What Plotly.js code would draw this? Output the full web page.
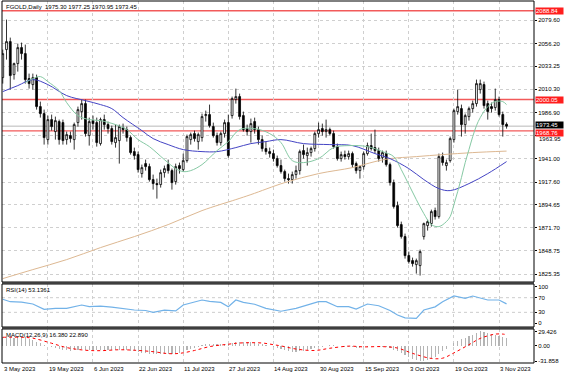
<!DOCTYPE html>
<html><head><meta charset="utf-8">
<script src="https://cdn.plot.ly/plotly-3.0.1.min.js"></script>
<style>html,body{margin:0;padding:0;background:#fff;} #chart{width:564px;height:376px;}</style>
</head><body><div id="chart"></div>
<script>
// ---- data (bar index 0 = 3 May 2023) ----
const opens = [2022,2050,2058,2025,2036,2052,2046,2021,2015,2022,
1993,1986,1960,1980,1968,1978,1977,1960,1964,1960,
1977,1988,1996,1964,1979,1977,1956,1980,1975,1971,
1957,1959,1972,1970,1962,1948,1945,1926,1936,1933,
1920,1916,1915,1927,1935,1929,1918,1934,1930,1939,
1960,1966,1958,1962,1984,1985,1973,1964,1957,1966,
1977,1984,2000,2003,1984,1971,1968,1978,1970,1960,
1951,1948,1946,1941,1934,1928,1921,1920,1925,1929,
1949,1944,1947,1951,1966,1971,1968,1970,1966,1953,
1941,1945,1943,1946,1936,1929,1933,1946,1954,1952,
1949,1942,1946,1935,1917,1894,1875,1863,1844,1839,
1835,1834,1863,1874,1876,1889,1883,1943,1934,1939,
1960,1988,1991,1975,1983,1991,1996,2010,2015,1996,
1993,1992,2000,1985,1975.30];
const highs = [2050,2080,2062,2037,2056,2057,2055,2026,2026,2025,
1998,1990,1984,1985,1983,1980,1980,1968,1968,1977,
1993,2000,2000,1982,1984,1982,1982,1985,1978,1974,
1975,1975,1976,1973,1964,1952,1948,1935,1940,1936,
1925,1921,1930,1934,1940,1931,1936,1937,1946,1965,
1967,1969,1967,1986,1989,1995,1977,1967,1968,1980,
1985,2003,2011,2006,1988,1975,1981,1982,1973,1964,
1958,1952,1950,1944,1940,1930,1926,1928,1934,1950,
1955,1952,1953,1968,1977,1976,1980,1972,1969,1956,
1948,1949,1949,1948,1938,1934,1948,1957,1966,1970,
1952,1949,1949,1937,1920,1898,1878,1866,1848,1842,
1841,1850,1877,1880,1890,1892,1946,1947,1940,1963,
1991,2010,1995,1986,1993,1999,2020,2020,2018,1999,
1997,2011,2003,1988,1977.25];
const lows = [2016,2040,2010,2020,2028,2040,2016,2011,2010,1990,
1982,1955,1955,1969,1960,1955,1955,1955,1957,1950,
1973,1980,1963,1954,1970,1953,1954,1970,1966,1955,
1952,1936,1966,1958,1945,1940,1927,1922,1929,1918,
1910,1901,1912,1922,1926,1910,1915,1926,1928,1937,
1955,1958,1950,1958,1978,1972,1962,1954,1954,1962,
1942,1981,1996,1980,1968,1964,1957,1966,1955,1948,
1945,1942,1938,1932,1926,1918,1916,1916,1921,1925,
1941,1934,1943,1948,1962,1964,1962,1964,1951,1939,
1938,1940,1940,1932,1926,1921,1930,1944,1949,1946,
1938,1937,1933,1914,1891,1872,1861,1841,1836,1833,
1826,1824,1860,1869,1873,1880,1881,1934,1929,1937,
1957,1985,1963,1966,1979,1987,1993,2006,1991,1980,
1987,1989,1983,1963,1970.95];
const closes = [2046,2058,2024,2036,2052,2046,2020,2016,2022,1993,
1986,1962,1980,1973,1979,1960,1959,1965,1961,1975,
1990,1996,1966,1978,1976,1957,1980,1975,1971,1958,
1962,1973,1970,1962,1947,1944,1930,1932,1933,1920,
1916,1915,1927,1931,1929,1917,1933,1931,1939,1963,
1965,1961,1965,1983,1985,1974,1964,1957,1966,1977,
1944,2001,2003,1983,1970,1968,1976,1970,1960,1951,
1948,1946,1941,1934,1928,1921,1920,1925,1929,1948,
1945,1947,1951,1966,1970,1968,1970,1966,1953,1941,
1945,1943,1946,1935,1929,1933,1946,1954,1951,1949,
1941,1947,1935,1917,1893,1874,1863,1844,1838,1836,
1839,1848,1876,1878,1888,1883,1943,1937,1937,1961,
1989,1993,1975,1984,1991,1996,2016,2016,1994,1988,
1991,2000,1985,1975,1973.45];

// moving averages
const fastMaIdx = [6,8,10,12,15,17,20,23,26,30,33,36,39,43,46,48,50,53,57,60,63,67,71,74,77,80,84,88,92,97,101,104,106,108,110,112,114,116,118,119,120,121,122,123,124,125,126,127,129,131,133,134];
const fastMaVal = [2017,2021,2023,2018,2009,1997,1984,1980,1979,1975,1970,1960,1953,1940,1931,1928,1929,1935,1949,1958,1970,1971,1966,1957,1939,1937,1941,1952,1954,1953,1948,1943,1930,1915,1900,1886,1875,1873,1878,1883,1895,1908,1922,1937,1950,1963,1974,1982,1993,1998,1998,1995];
const midMaIdx = [0,4,8,12,17,22,26,29,32,37,40,44,48,53,57,62,66,70,74,80,87,93,99,103,108,112,116,119,124,129,134];
const midMaVal = [2008,2014,2020,2015,2004,1999,1995,1991,1982,1969,1961,1955,1950,1948,1948,1952,1956,1958,1960,1956,1955,1954,1946,1941,1931,1920,1911,1909,1916,1926,1938];
const slowMaIdx = [0,8,17,26,35,44,53,62,66,75,84,93,99,103,110,117,125,134];
const slowMaVal = [1821,1830,1840,1852,1863,1875,1889,1900,1905,1917,1926,1932,1938,1941,1943,1945,1947,1948.5];

// RSI(14)
const rsiIdx = [0,2,5,8,11,14,17,21,23,26,29,31,35,38,40,43,46,48,50,53,55,58,60,62,64,67,70,74,78,81,84,86,89,92,94,97,100,103,105,107,110,112,115,117,120,123,125,129,132,134];
const rsiVal = [65.6,59,57.7,52.7,38,40.8,41,50,45.4,47,44,41,36.3,35,30,36,34,50,56,63.7,60,57,45.4,63.7,57,52,41,33,41,50,59,59,45.4,45.4,38.8,52.7,48,35,22.7,15,13.6,36.3,45,59,74.6,68.3,74.6,63.7,63.7,53.1361];

// MACD(12,26,9) main (histogram), one per bar
const macdMain = [17,18,17,16.5,17,17,15.5,13.5,12,8.5,
5,1,-1.5,-3.5,-5,-7,-8.5,-9.5,-10.5,-10,
-9,-7.5,-8.5,-8,-8,-9,-8.5,-8.5,-9,-10,
-10,-9.5,-9.5,-10,-11,-12,-14,-15,-15.5,-16.5,
-17.5,-18,-17.5,-17,-16.5,-17,-16,-15,-12.5,-9,
-6,-4,-2.5,0.5,3,4,4,3,3.5,4.5,
2.5,5,7.5,8,7.5,7,7,6,4.5,3,
1.5,0,-2,-4,-6,-8.5,-11,-12.5,-13,-12,
-10.5,-9,-7.5,-5.5,-3.5,-2,-0.5,0.5,0.5,-1,
-1.5,-2,-2,-3,-4,-4.5,-3.5,-2,-1,-1,
-1.5,-2.5,-3.5,-5.5,-8.5,-12,-15.5,-19.5,-23.5,-27,
-30,-31.858,-31,-29.5,-27,-24,-18,-12,-6,-0.5,
5,9.5,13,16.5,20,23,26,29.426,28.5,26.5,
24.5,22.5,20.5,18.5,16.38];
// signal line
const sigIdx = [0,5,8,13,17,22,26,31,35,40,44,47,51,55,60,63,69,72,74,78,83,87,92,96,101,105,109,114,117,120,124,127,131,133,134];
const sigVal = [17.4,17.4,15.5,5,-4,-9.5,-10.4,-8.5,-9.5,-12.5,-16.5,-16,-10,-2,3,5.5,5.5,2,-0.5,-7,-10,-5.4,-1,-2.5,-2,-5,-16,-26.5,-26,-15,2,15,24,24,22.89];

// axis labels
const dateTickIdx = [0,12,24,36,48,60,72,84,96,108,120,132];
const dateTickText = ['3 May 2023','19 May 2023','6 Jun 2023','22 Jun 2023','11 Jul 2023','27 Jul 2023','14 Aug 2023','30 Aug 2023','15 Sep 2023','3 Oct 2023','19 Oct 2023','3 Nov 2023'];
const priceTicks = [2079.60,2056.20,2033.25,2010.30,1986.90,1963.95,1941.00,1917.60,1894.65,1871.70,1848.75,1825.35];
const levelLines = [2088.84,2000.05,1968.76];
const lastPrice = 1973.45;
const titleText = 'FGOLD,Daily  1975.30 1977.25 1970.95 1973.45';

// ---- chart ----
const idx = closes.map((_, i) => i);
const FONT = 'Liberation Sans, Arial, sans-serif';
const FS = 6;
const crowdedTick = 1963.95; // its label sits just under the red 1968.76 box

const traces = [
  {type:'scatter', mode:'lines', x:slowMaIdx, y:slowMaVal, xaxis:'x', yaxis:'y',
   line:{color:'#ddb892', width:1, shape:'spline'}, hoverinfo:'skip'},
  {type:'scatter', mode:'lines', x:midMaIdx, y:midMaVal, xaxis:'x', yaxis:'y',
   line:{color:'#4444c4', width:1, shape:'spline'}, hoverinfo:'skip'},
  {type:'scatter', mode:'lines', x:fastMaIdx, y:fastMaVal, xaxis:'x', yaxis:'y',
   line:{color:'#86c9a4', width:1, shape:'spline'}, hoverinfo:'skip'},
  {type:'candlestick', x:idx, open:opens, high:highs, low:lows, close:closes, xaxis:'x', yaxis:'y',
   increasing:{line:{color:'#000', width:0.8}, fillcolor:'#fff'},
   decreasing:{line:{color:'#000', width:0.8}, fillcolor:'#000'},
   whiskerwidth:0},
  {type:'scatter', mode:'lines', x:rsiIdx, y:rsiVal, xaxis:'x', yaxis:'y2',
   line:{color:'#72b2e8', width:1.2}, hoverinfo:'skip'},
  {type:'bar', x:idx, y:macdMain, xaxis:'x', yaxis:'y3', width:0.3,
   marker:{color:'#b4b4b4', line:{width:0}}, hoverinfo:'skip'},
  {type:'scatter', mode:'lines', x:sigIdx, y:sigVal, xaxis:'x', yaxis:'y3',
   line:{color:'#ff0000', width:1, dash:'dot', shape:'spline'}, hoverinfo:'skip'}
];

const H = 362; // plot height in px (t=1,b=13)
const dMain = [(363-282)/H, 1];
const dRsi = [(363-327)/H, (363-284)/H];
const dMacd = [0, (363-329)/H];

const shapes = [];
levelLines.forEach(v => shapes.push({type:'line', xref:'paper', x0:0, x1:1, yref:'y', y0:v, y1:v,
  line:{color:'#f25a5a', width:1.4}, layer:'below'}));
shapes.push({type:'line', xref:'paper', x0:0, x1:1, yref:'y', y0:lastPrice, y1:lastPrice,
  line:{color:'#b8b8b8', width:1}, layer:'below'});
[30,70].forEach(v => shapes.push({type:'line', xref:'paper', x0:0, x1:1, yref:'y2', y0:v, y1:v,
  line:{color:'#cccccc', width:1, dash:'dot'}, layer:'below'}));
// separators between windows
shapes.push({type:'rect', xref:'paper', yref:'paper', x0:0, x1:1, y0:dRsi[1], y1:dMain[0], fillcolor:'#7d7d7d', line:{width:0}});
shapes.push({type:'rect', xref:'paper', yref:'paper', x0:0, x1:1, y0:dMacd[1], y1:dRsi[0], fillcolor:'#7d7d7d', line:{width:0}});
// frames
[dMain, dRsi, dMacd].forEach(d => shapes.push({type:'rect', xref:'paper', yref:'paper', x0:0, x1:1, y0:d[0], y1:d[1],
  line:{color:'#000', width:1}, fillcolor:'rgba(0,0,0,0)'}));

const annotations = [];
annotations.push({text:titleText, xref:'paper', x:0, xanchor:'left', xshift:2, yref:'paper', y:1, yanchor:'top', yshift:-1,
  showarrow:false, font:{family:FONT, size:FS, color:'#000'}});
annotations.push({text:'RSI(14) 53.1361', xref:'paper', x:0, xanchor:'left', xshift:2, yref:'y2 domain', y:1, yanchor:'top', yshift:-1,
  showarrow:false, font:{family:FONT, size:FS, color:'#000'}});
annotations.push({text:'MACD(12,26,9) 16.380 22.890', xref:'paper', x:0, xanchor:'left', xshift:2, yref:'y3 domain', y:1, yanchor:'top', yshift:-1,
  showarrow:false, font:{family:FONT, size:FS, color:'#000'}});
dateTickIdx.forEach((v, k) => annotations.push({text:dateTickText[k], xref:'x', x:v, xanchor:'left', xshift:-1,
  yref:'paper', y:0, yanchor:'top', yshift:-1, showarrow:false, font:{family:FONT, size:FS, color:'#000'}}));
// label of the crowded tick, nudged just below the red box
annotations.push({text:crowdedTick.toFixed(2), xref:'paper', x:1, xanchor:'left', xshift:3, yref:'y', y:crowdedTick,
  yanchor:'middle', yshift:-3, showarrow:false, font:{family:FONT, size:FS, color:'#000'}});
// red level boxes (the lowest one nudged down so it sits under the black price box, as in the reference)
const levelShift = [0, 0, -2];
levelLines.forEach((v, k) => annotations.push({text:v.toFixed(2), xref:'paper', x:1, xanchor:'left', xshift:1, yref:'y', y:v,
  yanchor:'middle', yshift:levelShift[k], showarrow:false, bgcolor:'#ff1e1e', borderpad:0, width:27, height:6, align:'left',
  font:{family:FONT, size:FS, color:'#fff'}}));
annotations.push({text:lastPrice.toFixed(2), xref:'paper', x:1, xanchor:'left', xshift:1, yref:'y', y:lastPrice,
  yanchor:'middle', yshift:1, showarrow:false, bgcolor:'#000', borderpad:0, width:27, height:6, align:'left',
  font:{family:FONT, size:FS, color:'#fff'}});

const layout = {
  width:564, height:376,
  margin:{l:2, r:30, t:1, b:13},
  paper_bgcolor:'#fff', plot_bgcolor:'#fff',
  showlegend:false, bargap:0,
  font:{family:FONT, size:FS, color:'#000'},
  xaxis:{range:[-0.2,141.3], tickvals:dateTickIdx, showticklabels:false, ticks:'',
    showgrid:true, gridcolor:'#cfcfcf', griddash:'dot', gridwidth:1, zeroline:false,
    rangeslider:{visible:false}, anchor:'y3', showline:false},
  yaxis:{domain:dMain, range:[1817.6,2098.6], side:'right', anchor:'x',
    tickvals:priceTicks, ticktext:priceTicks.map(v => v === crowdedTick ? '' : v.toFixed(2)),
    showgrid:true, gridcolor:'#cfcfcf', griddash:'dot', zeroline:false,
    ticks:'outside', ticklen:2, tickcolor:'#000', showline:false},
  yaxis2:{domain:dRsi, range:[-10.1,107.4], side:'right', anchor:'x',
    tickvals:[100,70,30,0], ticktext:['100','70','30','0'],
    showgrid:false, zeroline:false, ticks:'outside', ticklen:2, tickcolor:'#000'},
  yaxis3:{domain:dMacd, range:[-36,34.6], side:'right', anchor:'x',
    tickvals:[29.426,0,-31.858], ticktext:['29.426','0.00','-31.858'],
    showgrid:false, zeroline:false, ticks:'outside', ticklen:2, tickcolor:'#000'},
  shapes:shapes, annotations:annotations
};

Plotly.newPlot('chart', traces, layout, {staticPlot:true, displayModeBar:false});
</script>
</body></html>
